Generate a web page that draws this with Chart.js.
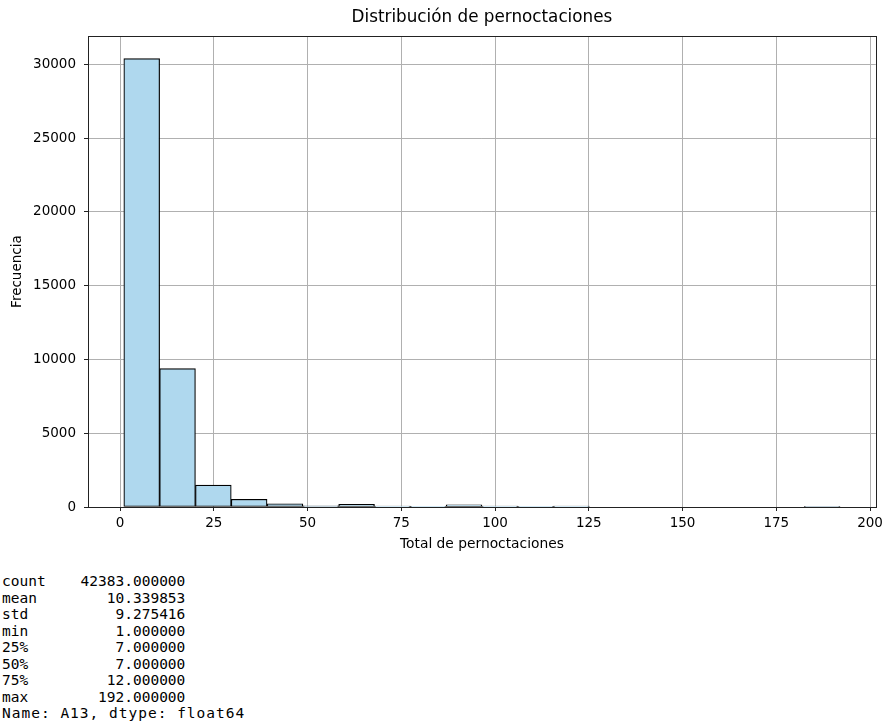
<!DOCTYPE html>
<html>
<head>
<meta charset="utf-8">
<script src="https://cdn.jsdelivr.net/npm/chart.js@4.4.0/dist/chart.umd.min.js"></script>
<style>
  body { margin: 0; background: #fff; }
  #wrap { width: 887px; height: 560px; position: relative; }
  pre { margin: 13px 0 0 2px; font-family: "DejaVu Sans Mono", monospace; font-size: 14.5px; line-height: 16.5px; color: #000; }
  pre span { letter-spacing: 1px; }
</style>
</head>
<body>
<div id="wrap"><canvas id="hist"></canvas></div>
<pre id="stats"></pre>
<script>
// bordes de los bins (20 bins entre 1 y 192)
const binEdges = [1, 10.55, 20.1, 29.65, 39.2, 48.75, 58.3, 67.85, 77.4, 86.95, 96.5,
    106.05, 115.6, 125.15, 134.7, 144.25, 153.8, 163.35, 172.9, 182.45, 192]
// frecuencias
const binCounts = [30380, 9370, 1480, 520, 220, 80, 180, 60, 15, 150, 60, 10, 60, 0, 0, 0, 0, 0, 0, 3]
const xTicks = [0, 25, 50, 75, 100, 125, 150, 175, 200]
const yTicks = [0, 5000, 10000, 15000, 20000, 25000, 30000]

const statNames = ["count", "mean", "std", "min", "25%", "50%", "75%", "max"]
const statValues = ["42383.000000", "10.339853", "9.275416", "1.000000", "7.000000", "7.000000", "12.000000", "192.000000"]
const statFooter = "Name: A13, dtype: float64"

// texto de describe()
let pre = document.getElementById("stats")
pre.textContent = statNames.map((n, i) => n.padEnd(5) + statValues[i].padStart(16)).join("\n") + "\n"
let foot = document.createElement("span")
foot.textContent = statFooter
pre.appendChild(foot)

const font = "'DejaVu Sans', sans-serif"

// marco alrededor del area del grafico
const frame = {
    id: "frame",
    afterDraw(chart) {
        const a = chart.chartArea
        const ctx = chart.ctx
        ctx.save()
        ctx.strokeStyle = "#222"
        ctx.lineWidth = 1
        ctx.strokeRect(Math.round(a.left) + 0.5, Math.round(a.top) + 0.5,
            Math.round(a.right - a.left), Math.round(a.bottom - a.top))
        ctx.restore()
    }
}

const points = binCounts.map((c, i) => ({x: (binEdges[i] + binEdges[i + 1]) / 2, y: c}))

new Chart(document.getElementById("hist"), {
    type: "bar",
    data: {
        datasets: [{
            data: points,
            backgroundColor: "#afd8ee",
            borderColor: "#000",
            borderWidth: 1.2,
            borderSkipped: false,
            barPercentage: 1,
            categoryPercentage: 1,
            grouped: false
        }]
    },
    plugins: [frame],
    options: {
        responsive: true,
        maintainAspectRatio: false,
        animation: false,
        layout: { padding: { left: 0, right: 9, top: 0, bottom: 0 } },
        plugins: {
            legend: { display: false },
            tooltip: { enabled: false },
            title: {
                display: true,
                fullSize: false,
                text: "Distribución de pernoctaciones",
                color: "#000",
                font: { family: font, size: 16.8, weight: "normal" },
                padding: { top: 8, bottom: 8 }
            }
        },
        scales: {
            x: {
                type: "linear",
                min: -8.55,
                max: 201.55,
                offset: false,
                z: 1,
                afterBuildTicks: s => { s.ticks = xTicks.map(v => ({value: v})) },
                afterFit: s => { s.height = 53 },
                grid: { offset: false, color: "#b0b0b0", tickColor: "#222", tickLength: 4, lineWidth: 1 },
                border: { display: false },
                ticks: { color: "#000", padding: 4, font: { family: font, size: 13.5 }, callback: v => String(v) },
                title: {
                    display: true,
                    text: "Total de pernoctaciones",
                    color: "#000",
                    font: { family: font, size: 13.8 },
                    padding: { top: 0, bottom: 7 }
                }
            },
            y: {
                min: 0,
                max: 31900,
                z: 1,
                afterBuildTicks: s => { s.ticks = yTicks.map(v => ({value: v})) },
                afterFit: s => { s.width = 88 },
                grid: { color: "#b0b0b0", tickColor: "#222", tickLength: 4, lineWidth: 1 },
                border: { display: false },
                ticks: { color: "#000", padding: 8, font: { family: font, size: 13.5 }, callback: v => String(v) },
                title: {
                    display: true,
                    text: "Frecuencia",
                    color: "#000",
                    font: { family: font, size: 13.5 },
                    padding: { top: 9, bottom: 0 }
                }
            }
        }
    }
})
</script>
</body>
</html>
